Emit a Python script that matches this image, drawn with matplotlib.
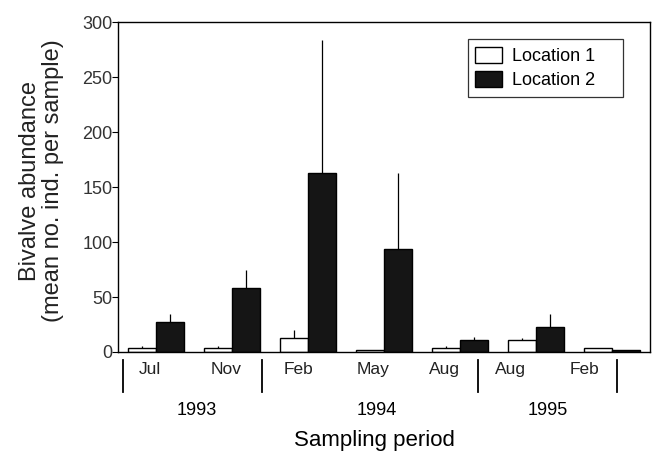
import numpy as np
import matplotlib.pyplot as plt

plt.rcParams['font.family'] = ['Liberation Sans', 'DejaVu Sans']

months = ['Jul', 'Nov', 'Feb', 'May', 'Aug', 'Aug', 'Feb']
years = ['1993', '1994', '1995']
loc1 = [4, 4, 12.5, 2, 3.5, 11, 3.5]
loc1_err = [1, 1, 7.5, 0, 1.5, 1.5, 0.5]
loc2 = [27.5, 58, 163, 94, 11, 23, 1.5]
loc2_err = [7.5, 17, 121, 69, 3, 12, 0]

fig = plt.figure(figsize=(6.52, 4.53), dpi=100)
ax = fig.add_axes([0.181, 0.223, 0.816, 0.728])

x = np.arange(len(months))
w = 0.37
ax.bar(x - w/2, loc1, w, color='white', edgecolor='black', linewidth=1, label='Location 1')
ax.bar(x + w/2, loc2, w, color='#151515', edgecolor='black', linewidth=1, label='Location 2')
# upward error bars only
ax.errorbar(x - w/2, loc1, yerr=[np.zeros(len(x)), loc1_err], fmt='none', ecolor='black', elinewidth=0.9, capsize=0)
ax.errorbar(x + w/2, loc2, yerr=[np.zeros(len(x)), loc2_err], fmt='none', ecolor='black', elinewidth=0.9, capsize=0)

ax.set_xlim(-0.5, 6.5)
ax.set_ylim(0, 300)
ax.set_yticks(range(0, 301, 50))
ax.tick_params(axis='y', direction='out', length=4, labelsize=13, pad=0, labelcolor='#333333')
# month labels sit a bit left of the bar groups in the original
ax.set_xticks([-0.08, 0.92, 1.88, 2.86, 3.8, 4.67, 5.64])
ax.set_xticklabels(months)
ax.tick_params(axis='x', length=0, labelsize=12.5, pad=7, labelcolor='#222222')

for s in ax.spines.values():
    s.set_linewidth(1)

# year separators below axis
for xs in [-0.43, 1.4, 4.23, 6.07]:
    ax.plot([xs, xs], [-0.024, -0.121], transform=ax.get_xaxis_transform(), color='black', lw=1.3, clip_on=False)

for xp, yr in zip([0.53, 2.9, 5.16], years):
    ax.text(xp, -0.176, yr, transform=ax.get_xaxis_transform(), ha='center', va='center', fontsize=13)

ax.text(2.87, -0.267, 'Sampling period', transform=ax.get_xaxis_transform(), ha='center', va='center', fontsize=16)
fig.text(41.5/652, 1 - 181/453, 'Bivalve abundance\n(mean no. ind. per sample)', rotation=90,
         ha='center', va='center', fontsize=17, linespacing=1.1, color='#222222')

leg = ax.legend(loc='upper left', bbox_to_anchor=(0.658, 0.948, 0.291, 0.0), mode='expand', fontsize=13,
                frameon=True, fancybox=False, edgecolor='black', handlelength=1.5, handleheight=1.0,
                borderpad=0.4, labelspacing=0.35, handletextpad=0.55, borderaxespad=0)
leg.get_frame().set_linewidth(0.9)

fig.savefig('out.png', dpi=100)
